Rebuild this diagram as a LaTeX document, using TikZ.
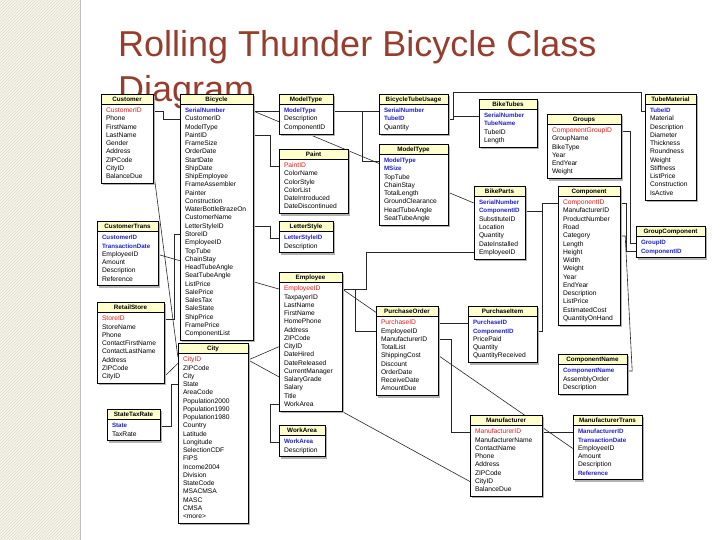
\documentclass[tikz,border=0pt]{standalone}
\usepackage{fontspec}
\setmainfont{Liberation Sans}
\usetikzlibrary{patterns}

\definecolor{titlered}{RGB}{150,62,45}
\definecolor{headfill}{RGB}{255,255,204}
\definecolor{keyred}{RGB}{225,30,30}
\definecolor{keyblue}{RGB}{35,35,200}
\definecolor{stripefill}{RGB}{246,244,236}
\definecolor{stripeline}{RGB}{224,220,205}

\pgfdeclarelayer{background}
\pgfsetlayers{background,main}

\newcommand{\pk}[1]{\textcolor{keyred}{#1}}
\newcommand{\fk}[1]{{\fontsize{6.2}{8}\selectfont\bfseries\textcolor{keyblue}{#1}}}

% class box: name, x, top, width, title, rows
\newcommand{\classbox}[6]{%
  \foreach \attr [count=\cnt] in {#6} {\xdef\nrows{\cnt}}
  \pgfmathsetmacro\boxbot{#3+17+(\nrows-1)*8.25+6.5}
  \pgfmathsetmacro\rowwd{#4-10}
  \fill[boxshadow] (#2+2,#3+2) rectangle (#2+#4+2,\boxbot+2);
  \draw[boxline, fill=white] (#2,#3) rectangle (#2+#4,\boxbot);
  \draw[boxline, fill=headfill] (#2,#3) rectangle (#2+#4,#3+10.5);
  \draw[headline] (#2,#3+10.5) -- (#2+#4,#3+10.5);
  \node[head] (#1) at (#2+#4/2,#3+5.5) {#5};
  \foreach \attr [count=\i] in {#6}
    \node[row, text width=\rowwd pt] (#1-\i) at (#2+#4/2,#3+17+\i*8.25-8.25) {\attr};
}

\begin{document}
\begin{tikzpicture}[x=1pt, y=-1pt,
  titletext/.style={font=\fontsize{36}{43}\selectfont, text=titlered, inner sep=0pt},
  head/.style={font=\fontsize{6.3}{7}\selectfont\bfseries, inner sep=0pt},
  row/.style={font=\fontsize{6.7}{8}\selectfont, inner xsep=5pt, inner ysep=0pt,
              text height=5pt, text depth=1.5pt, align=left},
  boxline/.style={draw=black, line width=0.6pt},
  headline/.style={line width=1pt},
  boxshadow/.style={fill=black!30},
  link/.style={draw=black!85, line width=0.6pt},
  stripeedge/.style={draw=black!25, line width=0.6pt}
]
  \useasboundingbox (0,0) rectangle (720,540);

  \begin{pgfonlayer}{background}
    \fill[stripefill] (0,0) rectangle (80,540);
    \fill[pattern=north east lines, pattern color=stripeline] (0,0) rectangle (80,540);
    \draw[stripeedge] (80,0) -- (80,540);
    \node[titletext, anchor=base west] (title1) at (118,57) {Rolling Thunder Bicycle Class};
    \node[titletext, anchor=base west] (title2) at (118,102) {Diagram};
  \end{pgfonlayer}

  % left column
  \classbox{cust}{101}{94}{52}{Customer}{\pk{CustomerID}, Phone, FirstName, LastName,
    Gender, Address, ZIPCode, CityID, BalanceDue}
  \classbox{ctrans}{97}{221}{61}{CustomerTrans}{\fk{CustomerID}, \fk{TransactionDate},
    EmployeeID, Amount, Description, Reference}
  \classbox{store}{97}{302}{67}{RetailStore}{\pk{StoreID}, StoreName, Phone,
    ContactFirstName, ContactLastName, Address, ZIPCode, CityID}
  \classbox{tax}{107}{409}{53}{StateTaxRate}{\fk{State}, TaxRate}
  \classbox{bike}{180}{94}{73}{Bicycle}{\fk{SerialNumber}, CustomerID, ModelType, PaintID,
    FrameSize, OrderDate, StartDate, ShipDate, ShipEmployee, FrameAssembler, Painter,
    Construction, WaterBottleBrazeOn, CustomerName, LetterStyleID, StoreID, EmployeeID,
    TopTube, ChainStay, HeadTubeAngle, SeatTubeAngle, ListPrice, SalePrice, SalesTax,
    SaleState, ShipPrice, FramePrice, ComponentList}
  \classbox{city}{178}{343}{70}{City}{\pk{CityID}, ZIPCode, City, State, AreaCode,
    Population2000, Population1990, Population1980, Country, Latitude, Longitude,
    SelectionCDF, FIPS, Income2004, Division, StateCode, MSACMSA, MASC, CMSA, <more>}

  % middle
  \classbox{mtype}{279}{94}{54}{ModelType}{\fk{ModelType}, Description, ComponentID}
  \classbox{paint}{279}{149}{69}{Paint}{\pk{PaintID}, ColorName, ColorStyle, ColorList,
    DateIntroduced, DateDiscontinued}
  \classbox{lstyle}{279}{221}{54}{LetterStyle}{\fk{LetterStyleID}, Description}
  \classbox{emp}{279}{272}{63}{Employee}{\pk{EmployeeID}, TaxpayerID, LastName, FirstName,
    HomePhone, Address, ZIPCode, CityID, DateHired, DateReleased, CurrentManager,
    SalaryGrade, Salary, Title, WorkArea}
  \classbox{warea}{279}{425}{46}{WorkArea}{\fk{WorkArea}, Description}
  \classbox{tubeuse}{379}{94}{69}{BicycleTubeUsage}{\fk{SerialNumber}, \fk{TubeID}, Quantity}
  \classbox{mtype2}{379}{144}{69}{ModelType}{\fk{ModelType}, \fk{MSize}, TopTube, ChainStay,
    TotalLength, GroundClearance, HeadTubeAngle, SeatTubeAngle}
  \classbox{po}{376}{306}{62}{PurchaseOrder}{\pk{PurchaseID}, EmployeeID, ManufacturerID,
    TotalList, ShippingCost, Discount, OrderDate, ReceiveDate, AmountDue}

  % right
  \classbox{tubes}{479}{99}{58}{BikeTubes}{\fk{SerialNumber}, \fk{TubeName}, TubeID, Length}
  \classbox{parts}{474}{186}{51}{BikeParts}{\fk{SerialNumber}, \fk{ComponentID},
    SubstituteID, Location, Quantity, DateInstalled, EmployeeID}
  \classbox{pitem}{468}{306}{69}{PurchaseItem}{\fk{PurchaseID}, \fk{ComponentID}, PricePaid,
    Quantity, QuantityReceived}
  \classbox{mfr}{470}{415}{72}{Manufacturer}{\pk{ManufacturerID}, ManufacturerName,
    ContactName, Phone, Address, ZIPCode, CityID, BalanceDue}
  \classbox{mtrans}{573}{415}{69}{ManufacturerTrans}{\fk{ManufacturerID},
    \fk{TransactionDate}, EmployeeID, Amount, Description, \fk{Reference}}
  \classbox{groups}{547}{114}{74}{Groups}{\pk{ComponentGroupID}, GroupName, BikeType, Year,
    EndYear, Weight}
  \classbox{tmat}{645}{94}{51}{TubeMaterial}{\fk{TubeID}, Material, Description, Diameter,
    Thickness, Roundness, Weight, Stiffness, ListPrice, Construction, IsActive}
  \classbox{comp}{558}{186}{62}{Component}{\pk{ComponentID}, ManufacturerID, ProductNumber,
    Road, Category, Length, Height, Width, Weight, Year, EndYear, Description, ListPrice,
    EstimatedCost, QuantityOnHand}
  \classbox{gcomp}{636}{226}{69}{GroupComponent}{\fk{GroupID}, \fk{ComponentID}}
  \classbox{cname}{558}{354}{69}{ComponentName}{\fk{ComponentName}, AssemblyOrder,
    Description}

  % links (behind the boxes)
  \begin{pgfonlayer}{background}
    \draw[link] (cust-1.east) -- ++(10,0) |- (bike-2.west);
    \draw[link] (cust-8.east) -- (city-1.north west);
    \draw[link] (ctrans-3.east) -- (emp-1.west);
    \draw[link] (bike-16.west) -- ++(-6,0) |- (store-1.east);
    \draw[link] (store-8.east) -- (city-1.south west);
    \draw[link] (tax-1.east) -- ++(11,0) |- (city-4.west);
    \draw[link] (city-1.east) -- (emp-8.west);
    \draw[link] (city-1.east) -- (mfr-7.west);
    \draw[link] (bike-4.east) -- ++(17,0) |- (paint-1.west);
    \draw[link] (bike-15.east) -- ++(17,0) |- (lstyle-1.west);
    \draw[link] (bike-1.east) -- (tubeuse-1.west);
    \draw[link] (bike-1.east) -- (parts-1.west);
    \draw[link] (mtype-1.east) -- ++(29,0) |- (mtype2-1.west);
    \coordinate (tubebend) at ([xshift=5pt,yshift=27pt]tubeuse-2.east);
    \draw[link] (tubeuse-2.east) -| (tubebend) -| ([xshift=-4pt]tmat-1.west) -- (tmat-1.west);
    \draw[link] (tubes-1.west) -- (tubes-1.west -| tubebend);
    \draw[link] (parts-2.east) -- ++(17,0) |- (comp-1.west);
    \draw[link] (pitem-2.east) -- ++(5,0) |- (comp-1.west);
    \draw[link] (emp-1.east) -- ++(13,0) |- (po-2.west);
    \draw[link] (parts-7.west) -- ++(-108,0) |- (emp-1.east);
    \draw[link] (emp-1.east) -- (mtrans-3.west);
    \draw[link] (po-1.east) -- (pitem-1.west);
    \draw[link] (po-3.east) -- ++(13,0) |- (mfr-1.west);
    \draw[link] (mfr-1.east) -- (mtrans-1.west);
    \draw[link] (emp-15.west) -- ++(-9,0) |- (warea-1.west);
    \draw[link] (groups-1.east) -- ++(9,0) |- (gcomp-1.west);
    \draw[link] (comp-1.east) -- ++(6,0) |- (gcomp-2.west);
    \draw[link] (comp-5.east) -- ++(5,0) -- ([xshift=5pt]cname-1.east) -- (cname-1.east);
  \end{pgfonlayer}
\end{tikzpicture}
\end{document}
